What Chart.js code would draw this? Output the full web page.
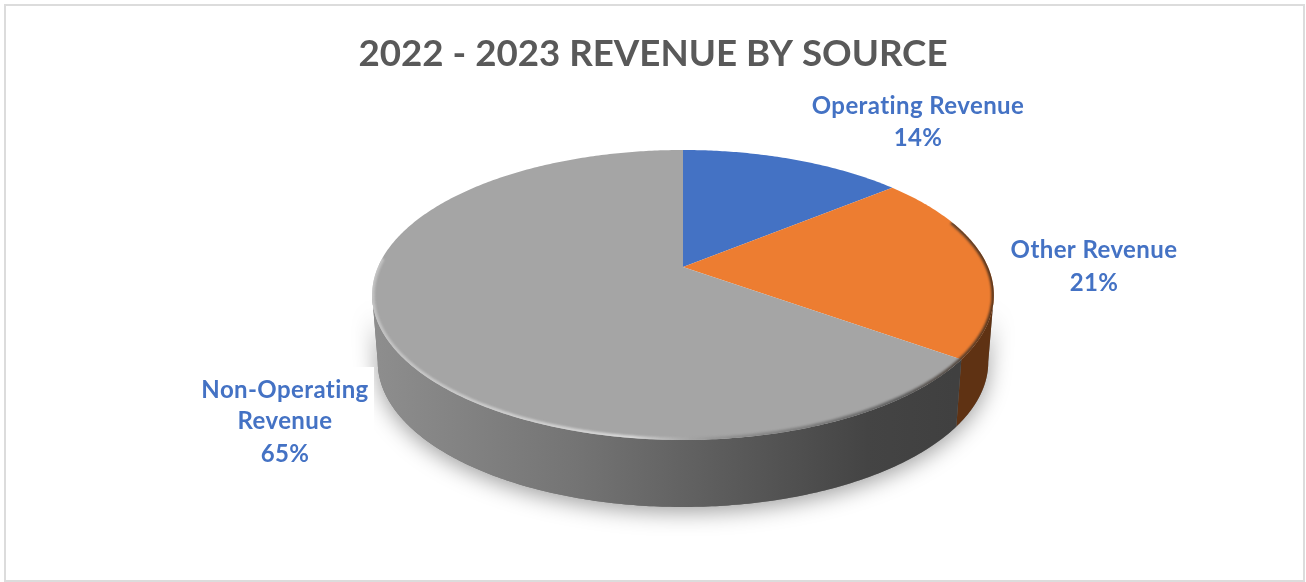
<!DOCTYPE html>
<html><head><meta charset="utf-8">
<style>html,body{margin:0;padding:0;background:#fff}canvas{display:block}</style>
<script src="https://cdn.jsdelivr.net/npm/chart.js@4"></script>
</head><body><canvas id="c" width="1306" height="582"></canvas>
<script>
const titleText = '2022 - 2023 REVENUE BY SOURCE';
const categories = ['Operating Revenue', 'Other Revenue', 'Non-Operating Revenue'];
const shares = [14, 21, 65];
const labelLines = [['Operating Revenue', '14%'], ['Other Revenue', '21%'], ['Non-Operating', 'Revenue', '65%']];
const faceColors = ['#4472c4', '#ed7d31', '#a5a5a5'];

// projection of the round pie onto the tilted view
const view = {shiftX: 30, apexY: 267, a: 305, b: 139.6, p: 0.193, depth: 67, baseScale: 0.982};
const labelSpots = [{x: 918, y: [106, 138]}, {x: 1094, y: [250, 283]}, {x: 285, y: [390, 421, 454]}];

function rim(cx, t, lower) {
  const u = Math.cos(t), v = Math.sin(t), w = 1 - view.p * v;
  const k = lower ? view.baseScale : 1;
  return [cx + k * view.a * u / w, view.apexY + (lower ? view.depth : 0) + view.b * v / w];
}
function tracePts(ctx, cx, a0, a1, lower, first) {
  const n = Math.max(8, Math.ceil(Math.abs(a1 - a0) * 90));
  for (let i = 0; i <= n; i++) {
    const p = rim(cx, a0 + (a1 - a0) * i / n, lower);
    if (i === 0 && first) ctx.moveTo(p[0], p[1]); else ctx.lineTo(p[0], p[1]);
  }
}
function wallPath(ctx, cx, a0, a1) {
  ctx.beginPath();
  tracePts(ctx, cx, a0, a1, false, true);
  tracePts(ctx, cx, a1, a0, true, false);
  ctx.closePath();
}
function facePath(ctx, cx, a0, a1) {
  ctx.beginPath();
  ctx.moveTo(cx, view.apexY);
  tracePts(ctx, cx, a0, a1, false, false);
  ctx.closePath();
}

const pie3d = {
  id: 'pie3d',
  beforeDraw(chart) {
    const ctx = chart.ctx;
    ctx.save();
    ctx.fillStyle = '#fff';
    ctx.fillRect(0, 0, 1306, 582);
    ctx.strokeStyle = '#dcdcdc';
    ctx.lineWidth = 2;
    ctx.strokeRect(5, 5, 1299, 576);
    ctx.restore();
  },
  beforeDatasetsDraw(chart) {
    const ctx = chart.ctx;
    const arcs = chart.getDatasetMeta(0).data;
    const cx = arcs[0].x + view.shiftX;
    const orange = arcs[1], gray = arcs[2];
    // the silhouette of the wall runs between the two widest points of the rim
    const sideR = Math.asin(view.p), sideL = Math.PI - sideR;
    ctx.save();

    // soft shadow under the disc
    ctx.save();
    ctx.shadowColor = 'rgba(0,0,0,0.38)';
    ctx.shadowBlur = 22;
    ctx.shadowOffsetY = 5;
    ctx.fillStyle = '#777';
    wallPath(ctx, cx, sideR, sideL);
    ctx.fill();
    ctx.restore();
    // the label box hides the shadow on the left
    ctx.fillStyle = '#fff';
    ctx.fillRect(195, 367, 179, 110);

    // side walls
    const g = ctx.createLinearGradient(372, 0, 955, 0);
    g.addColorStop(0, '#8e8e8e');
    g.addColorStop(0.35, '#747474');
    g.addColorStop(0.6, '#5c5c5c');
    g.addColorStop(0.85, '#444444');
    g.addColorStop(1, '#404040');
    wallPath(ctx, cx, Math.max(orange.startAngle, sideR), Math.min(orange.endAngle, sideL));
    ctx.fillStyle = '#5f3213';
    ctx.fill();
    wallPath(ctx, cx, Math.max(gray.startAngle, sideR), Math.min(gray.endAngle, sideL));
    ctx.fillStyle = g;
    ctx.fill();

    // top faces
    arcs.forEach((arc, i) => {
      facePath(ctx, cx, arc.startAngle, arc.endAngle);
      ctx.fillStyle = faceColors[i];
      ctx.fill();
    });

    // bevel along the rim
    const rimLight = ctx.createLinearGradient(372, 0, 994, 0);
    rimLight.addColorStop(0, 'rgba(215,215,215,0.6)');
    rimLight.addColorStop(0.42, 'rgba(225,225,225,0.85)');
    rimLight.addColorStop(0.58, 'rgba(120,120,120,0.5)');
    rimLight.addColorStop(0.85, 'rgba(70,70,70,0.75)');
    rimLight.addColorStop(1, 'rgba(60,40,25,0.85)');
    ctx.save();
    facePath(ctx, cx, 0, Math.PI * 2);
    ctx.clip();
    ctx.filter = 'blur(1.2px)';
    ctx.beginPath();
    tracePts(ctx, cx, -0.35, Math.PI * 1.02, false, true);
    ctx.strokeStyle = rimLight;
    ctx.lineWidth = 5;
    ctx.stroke();
    ctx.restore();
    ctx.restore();
    return false;
  },
  afterDraw(chart) {
    const ctx = chart.ctx;
    ctx.save();
    ctx.font = 'bold 24px Lato';
    ctx.letterSpacing = '0.4px';
    ctx.fillStyle = '#4472c4';
    ctx.textAlign = 'center';
    ctx.textBaseline = 'middle';
    labelLines.forEach((lines, i) => {
      lines.forEach((line, j) => ctx.fillText(line, labelSpots[i].x, labelSpots[i].y[j]));
    });
    ctx.restore();
  }
};

new Chart(document.getElementById('c'), {
  type: 'pie',
  data: {labels: categories, datasets: [{data: shares, backgroundColor: faceColors, borderWidth: 0}]},
  options: {
    responsive: false,
    animation: false,
    layout: {padding: {top: 0, bottom: 20}},
    plugins: {
      legend: {display: false},
      tooltip: {enabled: false},
      title: {display: true, text: titleText, color: '#595959', font: {family: 'Lato', size: 36.7, weight: 'bold'}, padding: {top: 32, bottom: 10}}
    }
  },
  plugins: [pie3d]
});
</script></body></html>
